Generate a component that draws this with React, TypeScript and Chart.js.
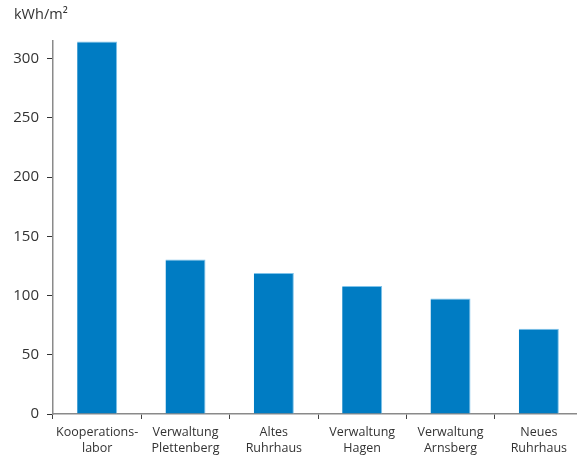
import React, { useEffect, useRef } from "react";
import { Chart, registerables } from "chart.js";

Chart.register(...registerables);

const categories: string[][] = [
  ["Kooperations-", "labor"],
  ["Verwaltung", "Plettenberg"],
  ["Altes", "Ruhrhaus"],
  ["Verwaltung", "Hagen"],
  ["Verwaltung", "Arnsberg"],
  ["Neues", "Ruhrhaus"],
];
const values: number[] = [314.5, 130.5, 119, 108, 97.5, 72];
const unitLabel = "kWh/m²";
const yMax = 315;
const yStep = 50;

const FONT = "'Open Sans', 'Noto Sans', sans-serif";

export default function App() {
  const ref = useRef<HTMLCanvasElement | null>(null);
  useEffect(() => {
    if (!ref.current) return;
    const titlePlugin = {
      id: "unitTitle",
      afterDraw(chart: any) {
        const ctx = chart.ctx;
        ctx.save();
        ctx.font = `14.5px ${FONT}`;
        ctx.fillStyle = "#333";
        ctx.textBaseline = "middle";
        ctx.textAlign = "left";
        ctx.fillText(unitLabel, 14, 15);
        ctx.restore();
      },
    };
    const chart = new Chart(ref.current, {
      type: "bar",
      data: {
        labels: categories,
        datasets: [
          {
            data: values,
            backgroundColor: "#007CC3",
            borderColor: "#7FC3EA",
            borderWidth: { left: 0, right: 1, top: 1, bottom: 0 },
            barPercentage: 0.453,
            categoryPercentage: 1,
          },
        ],
      },
      options: {
        animation: false,
        responsive: false,
        maintainAspectRatio: false,
        layout: { padding: { top: 41, left: 0, right: 0, bottom: 0 } },
        plugins: { legend: { display: false }, tooltip: { enabled: false } },
        scales: {
          x: {
            afterFit(scale: any) {
              scale.height = 42;
            },
            grid: {
              drawOnChartArea: false,
              drawTicks: true,
              tickLength: 5,
              color: "#444",
              offset: true,
            },
            border: { color: "#8a8a8a", width: 1.5 },
            ticks: {
              color: "#333",
              font: { family: FONT, size: 12.5, lineHeight: 1.25 },
              padding: 6,
              maxRotation: 0,
              autoSkip: false,
            },
          },
          y: {
            min: 0,
            max: yMax,
            afterFit(scale: any) {
              scale.width = 53;
            },
            afterBuildTicks(scale: any) {
              const t = [];
              for (let v = 0; v <= yMax; v += yStep) t.push({ value: v });
              scale.ticks = t;
            },
            grid: {
              drawOnChartArea: false,
              drawTicks: true,
              tickLength: 6,
              color: "#333",
            },
            border: { color: "#8a8a8a", width: 1.5 },
            ticks: {
              color: "#333",
              font: { family: FONT, size: 15 },
              padding: 8,
            },
          },
        },
      },
      plugins: [titlePlugin],
    });
    return () => chart.destroy();
  }, []);
  return (
    <div style={{ position: "fixed", left: 0, top: 0, width: 577, height: 456, overflow: "hidden", background: "#fff" }}>
      <canvas ref={ref} width={583} height={456} style={{ display: "block" }} />
    </div>
  );
}
